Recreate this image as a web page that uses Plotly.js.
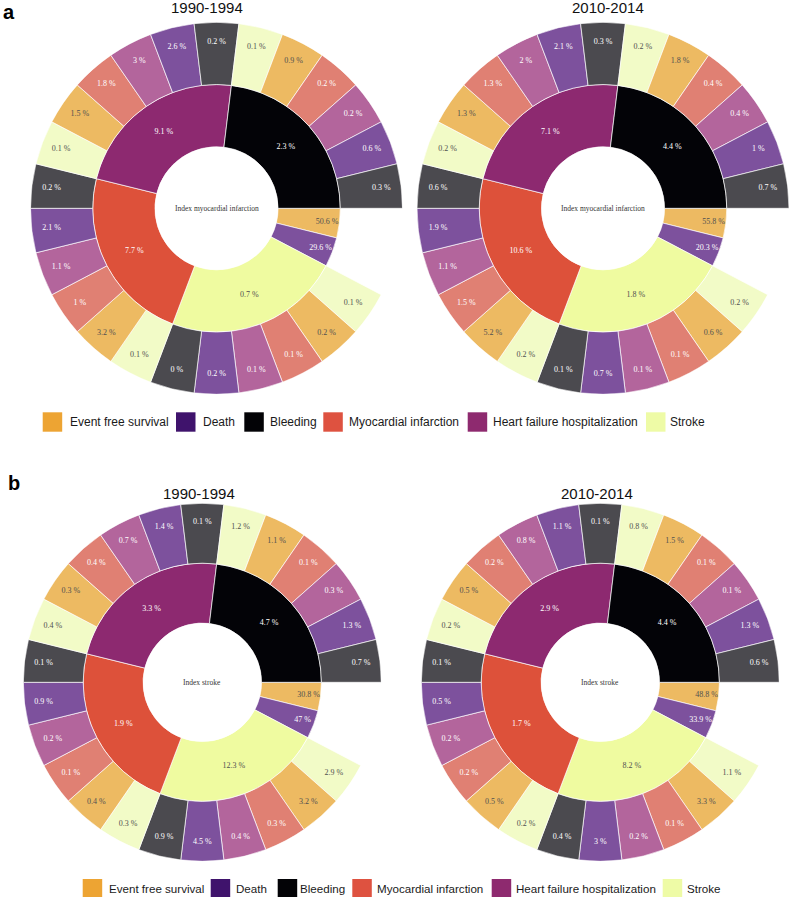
<!DOCTYPE html>
<html><head><meta charset="utf-8">
<script src="https://cdn.plot.ly/plotly-3.0.1.min.js"></script>
<style>body{margin:0;background:#fff}#chart{width:796px;height:898px}</style>
</head><body><div id="chart"></div>
<script>
// ---------- DATA ----------
const categories = ["Event free survival","Death","Bleeding","Myocardial infarction","Heart failure hospitalization","Stroke"];
// inner ring, clockwise from 3 o'clock
const innerOrder = ["Event free survival","Death","Stroke","Myocardial infarction","Heart failure hospitalization","Bleeding"];
// parents that carry an outer ring, and the order of their children (clockwise)
const parentOrder = ["Stroke","Myocardial infarction","Heart failure hospitalization","Bleeding"];
const childOrder = ["Stroke","Event free survival","Myocardial infarction","Heart failure hospitalization","Death","Bleeding"];
const periods = ["1990-1994","2010-2014"];
const indexLabels = ["Index myocardial infarction","Index stroke"];

// a: index myocardial infarction, 1990-1994
const miEarlyInner = [50.6, 29.6, 0.7, 7.7, 9.1, 2.3];
const miEarlyOuter = [
  [0.1, 0.2, 0.1, 0.1, 0.2, 0],
  [0.1, 3.2, 1, 1.1, 2.1, 0.2],
  [0.1, 1.5, 1.8, 3, 2.6, 0.2],
  [0.1, 0.9, 0.2, 0.2, 0.6, 0.3]
];
// a: index myocardial infarction, 2010-2014
const miLateInner = [55.8, 20.3, 1.8, 10.6, 7.1, 4.4];
const miLateOuter = [
  [0.2, 0.6, 0.1, 0.1, 0.7, 0.1],
  [0.2, 5.2, 1.5, 1.1, 1.9, 0.6],
  [0.2, 1.3, 1.3, 2, 2.1, 0.3],
  [0.2, 1.8, 0.4, 0.4, 1, 0.7]
];
// b: index stroke, 1990-1994
const strokeEarlyInner = [30.8, 47, 12.3, 1.9, 3.3, 4.7];
const strokeEarlyOuter = [
  [2.9, 3.2, 0.3, 0.4, 4.5, 0.9],
  [0.3, 0.4, 0.1, 0.2, 0.9, 0.1],
  [0.4, 0.3, 0.4, 0.7, 1.4, 0.1],
  [1.2, 1.1, 0.1, 0.3, 1.3, 0.7]
];
// b: index stroke, 2010-2014
const strokeLateInner = [48.8, 33.9, 8.2, 1.7, 2.9, 4.4];
const strokeLateOuter = [
  [1.1, 3.3, 0.1, 0.2, 3, 0.4],
  [0.2, 0.5, 0.2, 0.2, 0.5, 0.1],
  [0.2, 0.5, 0.2, 0.8, 1.1, 0.1],
  [0.8, 1.5, 0.1, 0.1, 1.3, 0.6]
];

// ---------- STYLE ----------
const W = 796, H = 898;
const legendColors = {"Event free survival":"#EDA433","Death":"#3F136C","Bleeding":"#030306","Myocardial infarction":"#DE5240","Heart failure hospitalization":"#8E2A6F","Stroke":"#EEFBA6"};
const innerColors = {"Event free survival":"#EDBA62","Death":"#7D519D","Bleeding":"#030307","Myocardial infarction":"#DD513A","Heart failure hospitalization":"#8D2970","Stroke":"#EFFBA0"};
const paleColors = {"Event free survival":"#EDBA62","Death":"#7D519D","Bleeding":"#4B4A4F","Myocardial infarction":"#E08073","Heart failure hospitalization":"#B3659C","Stroke":"#F2FBC7"};
const darkText = {"Event free survival":true,"Stroke":true};
const DARK = "#505050", LIGHT = "#ffffff";

const panels = [
  {inner: miEarlyInner, outer: miEarlyOuter, title: periods[0], center: indexLabels[0], cx: 216.5, cy: 208.3, R: 186, tx: 207, ty: 7.5},
  {inner: miLateInner, outer: miLateOuter, title: periods[1], center: indexLabels[0], cx: 603, cy: 208.3, R: 186, tx: 608, ty: 7.5},
  {inner: strokeEarlyInner, outer: strokeEarlyOuter, title: periods[0], center: indexLabels[1], cx: 202.3, cy: 682.3, R: 179, tx: 199, ty: 493.3},
  {inner: strokeLateInner, outer: strokeLateOuter, title: periods[1], center: indexLabels[1], cx: 600.3, cy: 682.3, R: 179, tx: 597, ty: 493.3}
];

const px = x => x / W;
const py = y => 1 - y / H;

const nSlots = 2 + parentOrder.length * childOrder.length; // 26
const slotW = 360 / nSlots;
const start = 90; // 3 o'clock, clockwise from top

const traces = [];
const layout = {
  width: W, height: H,
  margin: {l: 0, r: 0, t: 0, b: 0},
  paper_bgcolor: "#fff", plot_bgcolor: "#fff",
  showlegend: false,
  annotations: [], shapes: []
};

const labelFont = "Liberation Serif, Times New Roman, serif";

panels.forEach((p, i) => {
  const name = i === 0 ? "polar" : "polar" + (i + 1);
  layout[name] = {
    domain: {x: [px(p.cx - p.R), px(p.cx + p.R)], y: [py(p.cy + p.R), py(p.cy - p.R)]},
    hole: 0.331,
    bgcolor: "rgba(0,0,0,0)",
    radialaxis: {range: [0, 2], visible: false, showgrid: false, showline: false, showticklabels: false, ticks: ""},
    angularaxis: {rotation: 90, direction: "clockwise", visible: false, showgrid: false, showline: false, showticklabels: false, ticks: ""}
  };

  // inner ring
  const inTheta = [], inWidth = [], inColor = [], inTextR = [], inText = [], inTextColor = [];
  let slot = 0;
  innerOrder.forEach((cat, k) => {
    const span = (cat === "Event free survival" || cat === "Death") ? 1 : childOrder.length;
    const th = start + (slot + span / 2) * slotW;
    inTheta.push(th); inWidth.push(span * slotW); inColor.push(innerColors[cat]);
    inTextR.push(span === 1 ? 0.8 : 0.5);
    inText.push(p.inner[k] + " %");
    inTextColor.push(darkText[cat] ? DARK : LIGHT);
    slot += span;
  });
  traces.push({
    type: "barpolar", subplot: name, theta: inTheta, width: inWidth,
    r: inTheta.map(() => 1), base: 0,
    marker: {color: inColor, line: {color: "rgba(255,255,255,0.85)", width: 0.8}},
    hoverinfo: "skip"
  });

  // outer ring
  const outTheta = [], outColor = [], outText = [], outTextColor = [];
  parentOrder.forEach((par, pi) => {
    childOrder.forEach((ch, ci) => {
      const s = 2 + pi * childOrder.length + ci;
      outTheta.push(start + (s + 0.5) * slotW);
      outColor.push(paleColors[ch]);
      outText.push(p.outer[pi][ci] + " %");
      outTextColor.push(darkText[ch] ? DARK : LIGHT);
    });
  });
  traces.push({
    type: "barpolar", subplot: name, theta: outTheta, width: slotW,
    r: outTheta.map(() => 1), base: 1,
    marker: {color: outColor, line: {color: "rgba(255,255,255,0.85)", width: 0.8}},
    hoverinfo: "skip"
  });

  // labels
  traces.push({
    type: "scatterpolar", subplot: name, mode: "text",
    theta: inTheta.concat(outTheta),
    r: inTextR.concat(outTheta.map(() => 1.68)),
    text: inText.concat(outText),
    textfont: {family: labelFont, size: 8, color: inTextColor.concat(outTextColor)},
    textposition: "middle center", hoverinfo: "skip", cliponaxis: false
  });

  layout.annotations.push({
    text: p.center, x: px(p.cx), y: py(p.cy), xref: "paper", yref: "paper",
    showarrow: false, xanchor: "center", yanchor: "middle",
    font: {family: labelFont, size: 7.5, color: "#333333"}
  });
  layout.annotations.push({
    text: p.title, x: px(p.tx), y: py(p.ty), xref: "paper", yref: "paper",
    showarrow: false, xanchor: "center", yanchor: "middle", borderpad: 0,
    font: {family: "Liberation Sans, Arial, sans-serif", size: 15, color: "#111"}
  });
});

// panel letters
[["a", 9, 12], ["b", 13.7, 482.5]].forEach(([t, x, y]) => {
  layout.annotations.push({
    text: "<b>" + t + "</b>", x: px(x), y: py(y), xref: "paper", yref: "paper",
    showarrow: false, xanchor: "center", yanchor: "middle",
    font: {family: "Liberation Sans, Arial, sans-serif", size: 20, color: "#000"}
  });
});

// legends
const legendRows = [
  {y0: 412.3, y1: 431.7, sq: [42.7, 176, 244.3, 323.3, 467.7, 646], tx: [68.3, 200.7, 267.7, 347, 491, 668.3], size: 12},
  {y0: 879, y1: 897, sq: [82.7, 210.7, 277.7, 352.3, 491.7, 662.7], tx: [106.7, 234, 298, 375, 514.3, 685], size: 11.6}
];
legendRows.forEach(row => {
  categories.forEach((cat, k) => {
    layout.shapes.push({
      type: "rect", xref: "paper", yref: "paper",
      x0: px(row.sq[k]), x1: px(row.sq[k] + 19.5), y0: py(row.y1), y1: py(row.y0),
      fillcolor: legendColors[cat], line: {width: 0}
    });
    layout.annotations.push({
      text: cat, x: px(row.tx[k]), y: py((row.y0 + row.y1) / 2), xref: "paper", yref: "paper",
      showarrow: false, xanchor: "left", yanchor: "middle",
      font: {family: "Liberation Sans, Arial, sans-serif", size: row.size, color: "#1a1a1a"}
    });
  });
});

Plotly.newPlot("chart", traces, layout, {displayModeBar: false, staticPlot: true});
</script>
</body></html>
